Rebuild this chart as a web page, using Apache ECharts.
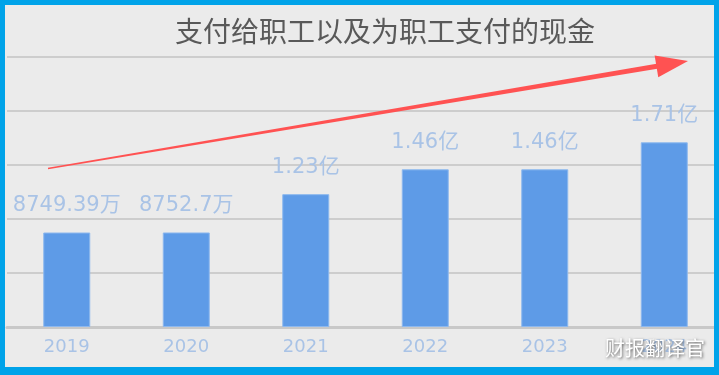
<!DOCTYPE html>
<html><head><meta charset="utf-8">
<script src="https://cdn.jsdelivr.net/npm/echarts@6/dist/echarts.min.js"></script>
<style>html,body{margin:0;padding:0;background:#EBEBEB;}#c{width:719px;height:375px;}</style>
</head><body><div id="c"></div>
<script>
const categories = ['2019','2020','2021','2022','2023','2024'];
const values = [0.874939, 0.87527, 1.23, 1.46, 1.46, 1.71]; // 亿元
const valueLabels = ['8749.39万','8752.7万','1.23亿','1.46亿','1.46亿','1.71亿'];
const titleText = '支付给职工以及为职工支付的现金';
const watermark = '财报翻译官';

const chart = echarts.init(document.getElementById('c'));
const cjk = '"Noto Sans CJK SC", "Noto Sans", sans-serif';
const num = '"DejaVu Sans", "Noto Sans CJK SC", sans-serif';

// arrow geometry (annotation)
const p0 = [48, 168.5], tip = [688, 61];
const dx = tip[0]-p0[0], dy = tip[1]-p0[1], L = Math.hypot(dx,dy);
const ux = dx/L, uy = dy/L, px = -uy, py = ux;
const headLen = 32, headHalf = 11;
const bc = [tip[0]-headLen*ux, tip[1]-headLen*uy];
const w0 = 0.8, w1 = 2.6;
const shaftEnd = [bc[0]+2*ux, bc[1]+2*uy];
const shaft = [
  [p0[0]+px*w0, p0[1]+py*w0],
  [shaftEnd[0]+px*w1, shaftEnd[1]+py*w1],
  [shaftEnd[0]-px*w1, shaftEnd[1]-py*w1],
  [p0[0]-px*w0, p0[1]-py*w0]
];
const head = [tip, [bc[0]+px*headHalf, bc[1]+py*headHalf], [bc[0]-px*headHalf, bc[1]-py*headHalf]];
const borderColor = '#00A3E9';

chart.setOption({
  backgroundColor: '#EBEBEB',
  animation: false,
  title: {
    text: titleText, left: 170, top: 12,
    textStyle: {color: '#595959', fontSize: 28, fontWeight: 'normal', fontFamily: cjk}
  },
  grid: {left: 7, width: 717, top: 57, height: 270, outerBoundsMode: 'none', containLabel: false},
  xAxis: {
    type: 'category', data: categories,
    axisLine: {lineStyle: {color: '#C8C8C8', width: 3}},
    axisTick: {show: false},
    axisLabel: {color: '#A9C3E6', fontSize: 18, fontFamily: num, margin: 11}
  },
  yAxis: {
    type: 'value', min: 0, max: 2.5, interval: 0.5,
    axisLabel: {show: false}, axisLine: {show: false}, axisTick: {show: false},
    splitLine: {lineStyle: {color: '#CDCDCD', width: 2}}
  },
  series: [{
    type: 'bar', data: values, barWidth: 47,
    itemStyle: {color: '#5E9BE7', borderColor: '#8DB8EE', borderWidth: 1},
    label: {
      show: true, position: 'top', distance: 16,
      formatter: p => valueLabels[p.dataIndex],
      color: '#A9C3E6', fontSize: 21, fontFamily: num
    }
  }],
  graphic: [
    {type: 'polygon', z: 100, shape: {points: shaft}, style: {fill: '#FF5252'}},
    {type: 'polygon', z: 100, shape: {points: head}, style: {fill: '#FF5252'}},
    {type: 'text', z: 110, left: 605, top: 338,
      style: {text: watermark, fill: '#FFFFFF', font: '20px ' + cjk,
        textShadowColor: 'rgba(0,0,0,0.6)', textShadowBlur: 3, textShadowOffsetX: 1, textShadowOffsetY: 1}},
    {type: 'rect', z: 120, shape: {x: 0, y: 0, width: 719, height: 5}, style: {fill: borderColor}},
    {type: 'rect', z: 120, shape: {x: 0, y: 367, width: 719, height: 8}, style: {fill: borderColor}},
    {type: 'rect', z: 120, shape: {x: 0, y: 0, width: 5, height: 375}, style: {fill: borderColor}},
    {type: 'rect', z: 120, shape: {x: 714, y: 0, width: 5, height: 375}, style: {fill: borderColor}}
  ]
});
</script></body></html>
